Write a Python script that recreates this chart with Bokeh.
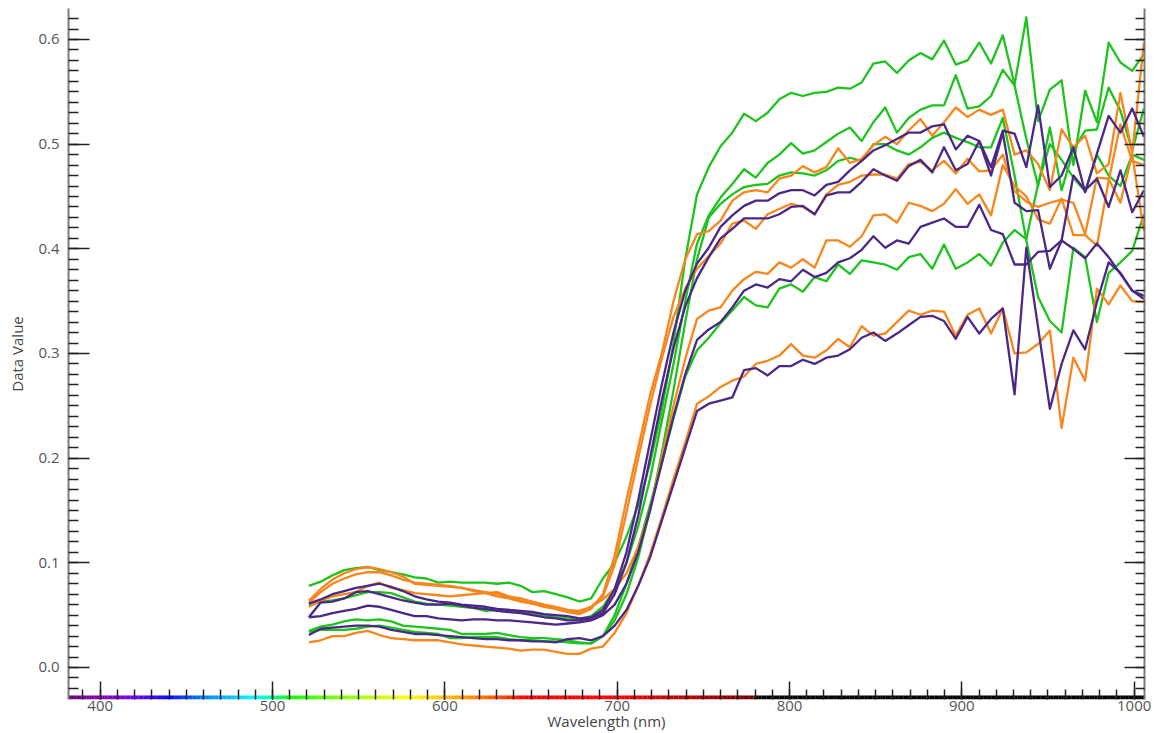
import numpy as np
from bokeh.plotting import figure
from bokeh.models import LinearAxis, FixedTicker, Range1d, PrintfTickFormatter, CustomJSTickFormatter
from bokeh.embed import file_html
from bokeh.resources import INLINE

# ---- band grid (nm) ----
band_start = 521.1
band_step = 6.825
n_bands = 72
wavelength = [round(band_start + band_step * k, 2) for k in range(n_bands)]

# ---- spectra (Data Value) ----
green_1 = [0.078, 0.082, 0.088, 0.093, 0.095, 0.096, 0.093, 0.091, 0.089, 0.086, 0.085, 0.081, 0.082, 0.081, 0.081, 0.081, 0.080, 0.081, 0.078, 0.072, 0.073, 0.070, 0.067, 0.063, 0.066,
           0.085, 0.100, 0.125, 0.155, 0.195, 0.245, 0.310, 0.390, 0.452,
           0.478, 0.498, 0.511, 0.529, 0.522, 0.530, 0.543, 0.549, 0.546, 0.549, 0.550, 0.554, 0.553, 0.559, 0.577, 0.579, 0.568,
           0.580, 0.587, 0.581, 0.599, 0.576, 0.580, 0.597, 0.577, 0.604, 0.557, 0.621,
           0.522, 0.552, 0.561, 0.480, 0.551, 0.521, 0.597, 0.578, 0.570, 0.586]
green_2 = [0.059, 0.063, 0.064, 0.066, 0.069, 0.072, 0.072, 0.071, 0.067, 0.063, 0.061, 0.060, 0.059, 0.058, 0.057, 0.054, 0.055, 0.055, 0.053, 0.051, 0.050, 0.048, 0.047, 0.046, 0.049,
           0.058, 0.075, 0.100, 0.135, 0.180, 0.235, 0.290, 0.350, 0.405,
           0.432, 0.449, 0.462, 0.476, 0.468, 0.482, 0.490, 0.501, 0.491, 0.494, 0.502, 0.510, 0.516, 0.503, 0.521, 0.535, 0.511,
           0.525, 0.533, 0.537, 0.537, 0.566, 0.534, 0.536, 0.546, 0.571, 0.556, 0.505,
           0.460, 0.516, 0.456, 0.494, 0.513, 0.514, 0.554, 0.532, 0.494, 0.534]
green_3 = [0.035, 0.039, 0.041, 0.044, 0.046, 0.045, 0.046, 0.044, 0.040, 0.039, 0.038, 0.037, 0.036, 0.032, 0.032, 0.032, 0.033, 0.031, 0.029, 0.028, 0.028, 0.027, 0.026, 0.024, 0.023,
           0.030, 0.045, 0.070, 0.105, 0.150, 0.205, 0.265, 0.330, 0.390,
           0.430, 0.443, 0.452, 0.459, 0.461, 0.462, 0.470, 0.473, 0.472, 0.470, 0.475, 0.484, 0.487, 0.484, 0.500, 0.500, 0.494,
           0.490, 0.497, 0.506, 0.511, 0.506, 0.502, 0.497, 0.497, 0.525, 0.470, 0.408,
           0.354, 0.331, 0.320, 0.401, 0.392, 0.330, 0.377, 0.387, 0.398, 0.433]
green_4 = [0.034, 0.036, 0.036, 0.036, 0.037, 0.039, 0.040, 0.038, 0.036, 0.034, 0.033, 0.032, 0.028, 0.028, 0.029, 0.029, 0.029, 0.027, 0.026, 0.026, 0.025, 0.025, 0.024, 0.023, 0.023,
           0.030, 0.050, 0.080, 0.115, 0.155, 0.195, 0.238, 0.278, 0.303,
           0.315, 0.329, 0.341, 0.354, 0.346, 0.344, 0.362, 0.366, 0.359, 0.373, 0.369, 0.385, 0.376, 0.389, 0.387, 0.385, 0.380,
           0.392, 0.395, 0.381, 0.404, 0.381, 0.387, 0.395, 0.384, 0.406, 0.418, 0.409,
           0.462, 0.500, 0.485, 0.468, 0.455, 0.490, 0.470, 0.460, 0.490, 0.485]

orange_1 = [0.064, 0.075, 0.084, 0.090, 0.094, 0.096, 0.094, 0.091, 0.087, 0.080, 0.079, 0.078, 0.077, 0.076, 0.074, 0.072, 0.070, 0.067, 0.064, 0.061, 0.059, 0.056, 0.053, 0.051, 0.056,
            0.070, 0.107, 0.160, 0.210, 0.260, 0.300, 0.350, 0.390, 0.414,
            0.417, 0.427, 0.446, 0.454, 0.456, 0.454, 0.467, 0.470, 0.479, 0.473, 0.478, 0.496, 0.482, 0.486, 0.499, 0.507, 0.500,
            0.513, 0.524, 0.508, 0.521, 0.535, 0.526, 0.533, 0.528, 0.533, 0.490, 0.494,
            0.481, 0.456, 0.514, 0.497, 0.508, 0.472, 0.481, 0.549, 0.492, 0.597]
orange_2 = [0.062, 0.072, 0.080, 0.085, 0.089, 0.091, 0.091, 0.088, 0.084, 0.081, 0.080, 0.079, 0.078, 0.076, 0.073, 0.071, 0.068, 0.066, 0.063, 0.061, 0.058, 0.056, 0.053, 0.053, 0.058,
            0.068, 0.098, 0.148, 0.200, 0.250, 0.295, 0.335, 0.362, 0.381,
            0.393, 0.405, 0.424, 0.427, 0.419, 0.433, 0.438, 0.443, 0.440, 0.433, 0.452, 0.461, 0.464, 0.470, 0.471, 0.471, 0.467,
            0.481, 0.483, 0.475, 0.484, 0.472, 0.486, 0.474, 0.475, 0.490, 0.455, 0.445,
            0.440, 0.444, 0.447, 0.444, 0.414, 0.468, 0.467, 0.444, 0.490, 0.417]
orange_3 = [0.058, 0.064, 0.068, 0.070, 0.072, 0.078, 0.081, 0.076, 0.074, 0.071, 0.070, 0.069, 0.068, 0.069, 0.070, 0.071, 0.072, 0.068, 0.066, 0.063, 0.060, 0.058, 0.055, 0.054, 0.058,
            0.065, 0.075, 0.090, 0.115, 0.150, 0.200, 0.250, 0.295, 0.333,
            0.341, 0.344, 0.360, 0.371, 0.378, 0.376, 0.387, 0.382, 0.390, 0.382, 0.408, 0.408, 0.402, 0.412, 0.432, 0.433, 0.425,
            0.444, 0.441, 0.436, 0.443, 0.457, 0.443, 0.452, 0.432, 0.480, 0.460, 0.450,
            0.428, 0.424, 0.448, 0.413, 0.413, 0.403, 0.465, 0.519, 0.484, 0.480]
orange_4 = [0.024, 0.026, 0.030, 0.030, 0.033, 0.035, 0.031, 0.028, 0.027, 0.026, 0.026, 0.026, 0.024, 0.022, 0.021, 0.020, 0.019, 0.018, 0.016, 0.017, 0.017, 0.015, 0.013, 0.013, 0.018,
            0.020, 0.033, 0.052, 0.078, 0.108, 0.143, 0.180, 0.215, 0.252,
            0.259, 0.268, 0.274, 0.278, 0.290, 0.293, 0.298, 0.309, 0.298, 0.296, 0.303, 0.314, 0.306, 0.326, 0.317, 0.319, 0.330,
            0.341, 0.337, 0.341, 0.340, 0.317, 0.337, 0.343, 0.319, 0.343, 0.300, 0.301,
            0.309, 0.322, 0.229, 0.296, 0.274, 0.362, 0.347, 0.365, 0.350, 0.349]

purple_1 = [0.061, 0.065, 0.070, 0.073, 0.076, 0.078, 0.080, 0.077, 0.073, 0.068, 0.065, 0.063, 0.062, 0.060, 0.059, 0.058, 0.056, 0.055, 0.054, 0.053, 0.051, 0.050, 0.049, 0.047, 0.048,
            0.055, 0.075, 0.110, 0.160, 0.215, 0.270, 0.320, 0.360, 0.386,
            0.401, 0.421, 0.432, 0.441, 0.446, 0.446, 0.453, 0.456, 0.456, 0.451, 0.461, 0.464, 0.475, 0.484, 0.494, 0.499, 0.505,
            0.511, 0.511, 0.517, 0.519, 0.495, 0.508, 0.503, 0.478, 0.513, 0.510, 0.478,
            0.537, 0.459, 0.470, 0.497, 0.454, 0.491, 0.527, 0.511, 0.534, 0.507]
purple_2 = [0.048, 0.062, 0.063, 0.066, 0.072, 0.073, 0.070, 0.067, 0.064, 0.062, 0.060, 0.060, 0.061, 0.059, 0.057, 0.056, 0.054, 0.053, 0.052, 0.050, 0.048, 0.047, 0.045, 0.045, 0.047,
            0.052, 0.070, 0.100, 0.145, 0.200, 0.255, 0.305, 0.345, 0.372,
            0.392, 0.410, 0.419, 0.429, 0.429, 0.429, 0.433, 0.440, 0.441, 0.433, 0.451, 0.454, 0.454, 0.464, 0.476, 0.470, 0.465,
            0.479, 0.485, 0.473, 0.497, 0.475, 0.481, 0.503, 0.470, 0.511, 0.444, 0.436,
            0.437, 0.381, 0.408, 0.470, 0.456, 0.467, 0.440, 0.475, 0.435, 0.456]
purple_3 = [0.048, 0.049, 0.052, 0.054, 0.056, 0.059, 0.058, 0.055, 0.052, 0.049, 0.049, 0.047, 0.046, 0.045, 0.046, 0.046, 0.045, 0.045, 0.044, 0.043, 0.042, 0.041, 0.042, 0.043, 0.045,
            0.050, 0.060, 0.080, 0.110, 0.150, 0.195, 0.240, 0.280, 0.313,
            0.323, 0.330, 0.344, 0.360, 0.366, 0.363, 0.371, 0.369, 0.380, 0.373, 0.377, 0.387, 0.391, 0.399, 0.412, 0.401, 0.408,
            0.405, 0.421, 0.425, 0.429, 0.421, 0.421, 0.442, 0.418, 0.414, 0.385, 0.385,
            0.397, 0.398, 0.408, 0.400, 0.391, 0.405, 0.392, 0.376, 0.360, 0.355]
purple_4 = [0.031, 0.037, 0.038, 0.039, 0.040, 0.040, 0.039, 0.036, 0.034, 0.032, 0.032, 0.031, 0.030, 0.029, 0.028, 0.027, 0.027, 0.026, 0.026, 0.025, 0.025, 0.024, 0.027, 0.028, 0.026,
            0.030, 0.040, 0.055, 0.078, 0.105, 0.140, 0.175, 0.210, 0.245,
            0.252, 0.255, 0.258, 0.284, 0.286, 0.279, 0.288, 0.288, 0.294, 0.290, 0.296, 0.298, 0.304, 0.315, 0.320, 0.312, 0.319,
            0.327, 0.335, 0.336, 0.331, 0.314, 0.335, 0.319, 0.333, 0.343, 0.261, 0.401,
            0.325, 0.247, 0.290, 0.322, 0.304, 0.349, 0.387, 0.377, 0.360, 0.352]

# ---- axis ticks ----
x_major_ticks = [400, 500, 600, 700, 800, 900, 1000]
x_minor_ticks = list(range(390, 1010, 10))
y_major_ticks = [0.0, 0.1, 0.2, 0.3, 0.4, 0.5, 0.6]
y_minor_ticks = [round(-0.02 + 0.01 * i, 2) for i in range(65)]

GREEN = "#1ec31e"
ORANGE = "#f8861c"
PURPLE = "#4b2887"
FONT = "Open Sans"

x_lo, x_hi = 381.6, 1006.0
y_lo, y_hi = -0.0306, 0.6296

p = figure(width=1158, height=733, x_range=Range1d(x_lo, x_hi), y_range=Range1d(y_lo, y_hi),
           output_backend="svg", toolbar_location=None,
           min_border_left=68, min_border_right=14, min_border_top=8, min_border_bottom=34)
p.outline_line_color = None
p.xgrid.grid_line_color = None
p.ygrid.grid_line_color = None
p.background_fill_color = "white"
p.border_fill_color = "white"

# spectrum colour band along the wavelength axis
def wl_to_hex(w):
    if 380 <= w < 440:
        r, g, b = -(w - 440) / 60.0, 0.0, 1.0
    elif 440 <= w < 490:
        r, g, b = 0.0, (w - 440) / 50.0, 1.0
    elif 490 <= w < 510:
        r, g, b = 0.0, 1.0, -(w - 510) / 20.0
    elif 510 <= w < 580:
        r, g, b = (w - 510) / 70.0, 1.0, 0.0
    elif 580 <= w < 645:
        r, g, b = 1.0, -(w - 645) / 65.0, 0.0
    elif 645 <= w <= 780:
        r, g, b = 1.0, 0.0, 0.0
    else:
        r, g, b = 0.0, 0.0, 0.0
    if 380 <= w < 420:
        f = 0.3 + 0.7 * (w - 380) / 40.0
    elif 420 <= w <= 700:
        f = 1.0
    elif 700 < w <= 780:
        f = 0.3 + 0.7 * (780 - w) / 80.0
    else:
        f = 0.0
    def c(v):
        return 0 if v <= 0 else int(round(255 * (v * f) ** 0.8))
    return "#%02x%02x%02x" % (c(r), c(g), c(b))

band_left = np.arange(x_lo, x_hi, 1.5)
band_right = band_left + 1.6
band_cols = [wl_to_hex(w + 0.75) for w in band_left]
band_h = 4.0 / 1047.0
p.quad(left=band_left, right=band_right, bottom=y_lo, top=y_lo + band_h,
       fill_color=band_cols, line_color=None)

series = [
    (green_1, GREEN), (green_2, GREEN), (green_3, GREEN), (green_4, GREEN),
    (orange_1, ORANGE), (orange_2, ORANGE), (orange_3, ORANGE), (orange_4, ORANGE),
    (purple_1, PURPLE), (purple_2, PURPLE), (purple_3, PURPLE), (purple_4, PURPLE),
]
for vals, col in series:
    p.line(wavelength, vals, line_color=col, line_width=2.3, line_join="round")

# left axis
ya = p.yaxis[0]
ya.ticker = FixedTicker(ticks=y_major_ticks, minor_ticks=y_minor_ticks)
ya.formatter = PrintfTickFormatter(format="%.1f")
ya.major_tick_in = 21
ya.major_tick_out = 0
ya.minor_tick_in = 10
ya.minor_tick_out = 0
ya.major_tick_line_color = "#222222"
ya.minor_tick_line_color = "#222222"
ya.major_tick_line_width = 1.5
ya.minor_tick_line_width = 1.5
ya.axis_line_color = "#7a7a7a"
ya.axis_line_width = 2
ya.major_label_text_font = FONT
ya.major_label_text_font_size = "15px"
ya.major_label_text_color = "#555555"
ya.major_label_standoff = 9
ya.axis_label = "Data Value"
ya.axis_label_text_font = FONT
ya.axis_label_text_font_size = "15px"
ya.axis_label_text_font_style = "normal"
ya.axis_label_text_color = "#444444"
ya.axis_label_standoff = 8

# right axis (ticks only)
ra = LinearAxis(ticker=FixedTicker(ticks=y_major_ticks, minor_ticks=y_minor_ticks),
                formatter=CustomJSTickFormatter(code="return ''"),
                major_tick_in=20, major_tick_out=0, minor_tick_in=9, minor_tick_out=0,
                major_tick_line_color="#222222", minor_tick_line_color="#222222",
                major_tick_line_width=1.5, minor_tick_line_width=1.5,
                axis_line_color="#7a7a7a", axis_line_width=2,
                major_label_text_font_size="1px", major_label_standoff=0)
p.add_layout(ra, "right")

# bottom axis
xa = p.xaxis[0]
xa.ticker = FixedTicker(ticks=x_major_ticks, minor_ticks=x_minor_ticks)
xa.major_tick_in = 18
xa.major_tick_out = 0
xa.minor_tick_in = 10
xa.minor_tick_out = 0
xa.major_tick_line_color = "#222222"
xa.minor_tick_line_color = "#222222"
xa.major_tick_line_width = 1.5
xa.minor_tick_line_width = 1.5
xa.axis_line_color = None
xa.major_label_text_font = FONT
xa.major_label_text_font_size = "15px"
xa.major_label_text_color = "#555555"
xa.major_label_standoff = 1
xa.axis_label = "Wavelength (nm)"
xa.axis_label_text_font = FONT
xa.axis_label_text_font_size = "15px"
xa.axis_label_text_font_style = "normal"
xa.axis_label_text_color = "#444444"
xa.axis_label_standoff = -3

open("out.html", "w").write(file_html(p, INLINE))
